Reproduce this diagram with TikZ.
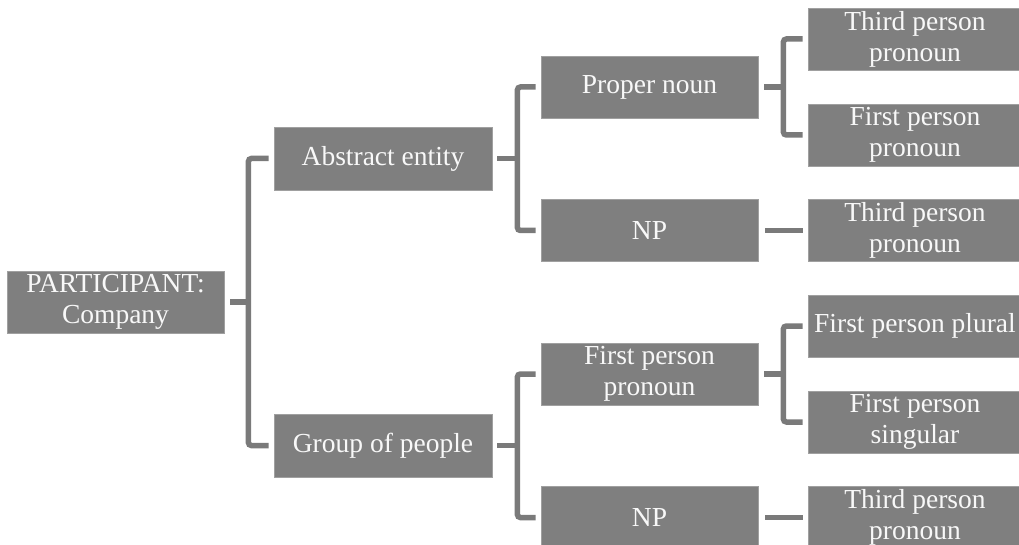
\documentclass[tikz,border=0pt]{standalone}
\usepackage{fontspec}
\setmainfont{Liberation Serif}
\definecolor{boxfill}{RGB}{127,127,127}
\definecolor{boxedge}{RGB}{160,160,160}
\definecolor{linkgray}{RGB}{122,122,122}
\definecolor{boxtext}{RGB}{248,248,248}
\begin{document}
\begin{tikzpicture}[x=1pt,y=-1pt,
  box/.style={rectangle, fill=boxfill, draw=boxedge, line width=0.8pt,
    text=boxtext, align=center, inner sep=0pt,
    font=\fontsize{27.5}{31}\selectfont},
  rootbox/.style={box, minimum width=217pt, minimum height=62pt},
  midbox/.style={box, minimum width=218pt, minimum height=63pt},
  subbox/.style={box, minimum width=217pt, minimum height=62pt},
  leafbox/.style={box, minimum width=214pt, minimum height=62pt},
  conn/.style={draw=linkgray, line width=5.5pt, rounded corners=3pt}]
\useasboundingbox (0,0) rectangle (1019,545);
\clip (0,0) rectangle (1019,545);

% level 0
\node[rootbox] (root) at (115.5,302) {PARTICIPANT:\\Company};

% level 1
\node[midbox] (abs) at (383,158.5) {Abstract entity};
\node[midbox] (grp) at (383,445.5) {Group of people};

% level 2
\node[subbox] (pn)  at (649.5,87)    {Proper noun};
\node[subbox] (np1) at (649.5,230.5) {NP};
\node[subbox] (fpp) at (649.5,374)   {First person\\pronoun};
\node[subbox] (np2) at (649.5,517.5) {NP};

% level 3
\node[leafbox] (t1)  at (915,39)    {Third person\\pronoun};
\node[leafbox] (f1)  at (915,135)   {First person\\pronoun};
\node[leafbox] (t2)  at (915,230.5) {Third person\\pronoun};
\node[leafbox] (fpl) at (915,326)   {First person plural};
\node[leafbox] (fps) at (915,422)   {First person\\singular};
\node[leafbox] (t3)  at (915,517.5) {Third person\\pronoun};

% brackets from the root
\draw[conn] ([xshift=6pt]root.east) -- ([xshift=24pt]root.east);
\draw[conn] ([xshift=-5pt]abs.west) -| ([xshift=24pt]root.east)
            |- ([xshift=-5pt]grp.west);

% brackets from level 1
\draw[conn] ([xshift=5pt]abs.east) -- ([xshift=25pt]abs.east);
\draw[conn] ([xshift=-5pt]pn.west) -| ([xshift=25pt]abs.east)
            |- ([xshift=-5pt]np1.west);
\draw[conn] ([xshift=5pt]grp.east) -- ([xshift=25pt]grp.east);
\draw[conn] ([xshift=-5pt]fpp.west) -| ([xshift=25pt]grp.east)
            |- ([xshift=-5pt]np2.west);

% brackets from level 2
\draw[conn] ([xshift=6pt]pn.east) -- ([xshift=25pt]pn.east);
\draw[conn] ([xshift=-5pt]t1.west) -| ([xshift=25pt]pn.east)
            |- ([xshift=-5pt]f1.west);
\draw[conn] ([xshift=6pt]fpp.east) -- ([xshift=25pt]fpp.east);
\draw[conn] ([xshift=-5pt]fpl.west) -| ([xshift=25pt]fpp.east)
            |- ([xshift=-5pt]fps.west);
\draw[conn] ([xshift=7pt]np1.east) -- ([xshift=-5pt]t2.west);
\draw[conn] ([xshift=7pt]np2.east) -- ([xshift=-5pt]t3.west);
\end{tikzpicture}
\end{document}
